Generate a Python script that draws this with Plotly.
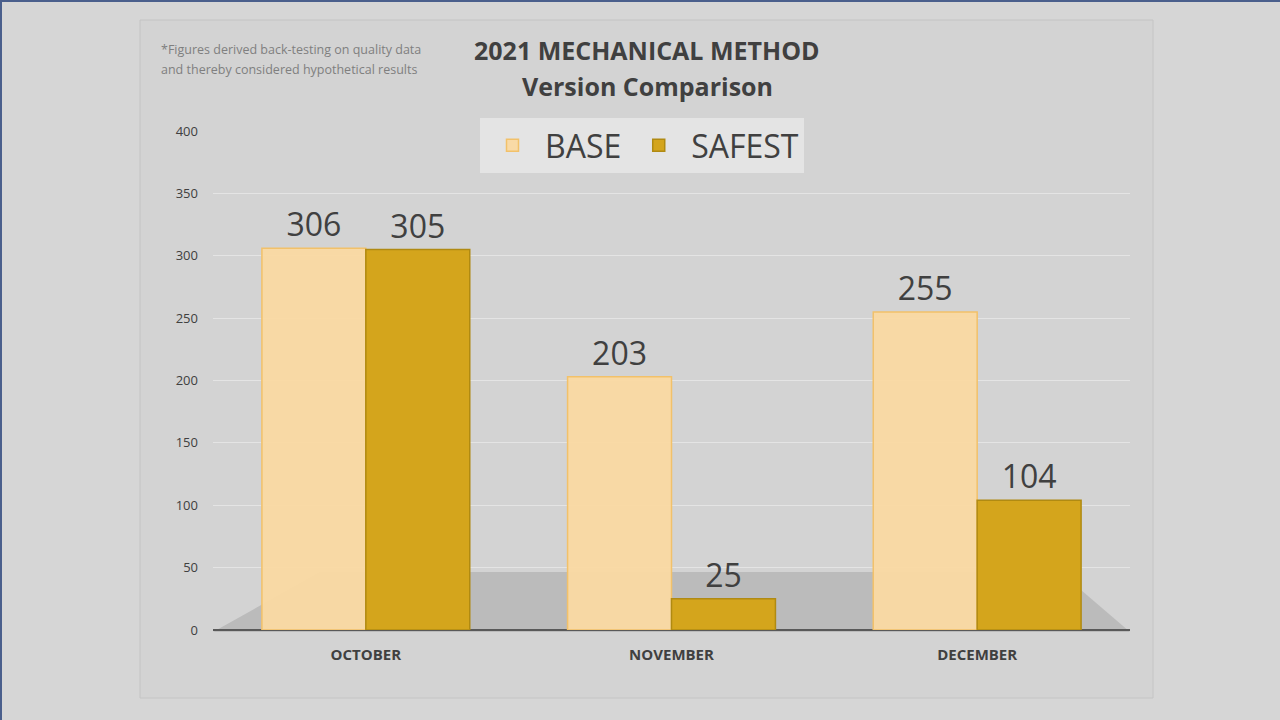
import plotly.graph_objects as go

# datos
months = ["OCTOBER", "NOVEMBER", "DECEMBER"]
base = [306, 203, 255]
safest = [305, 25, 104]
y_ticks = [0, 50, 100, 150, 200, 250, 300, 350, 400]

FONT = "Open Sans"

# area del grafico en pixeles (para pasar a coords paper)
L, R, T, B = 213, 1130, 131, 630
def px(x):
    return (x - L) / (R - L)
def py(y):
    return (B - y) / (B - T)

fig = go.Figure()

fig.add_trace(go.Bar(
    x=months, y=base, name="BASE",
    marker=dict(color="rgba(250,217,162,0.95)", line=dict(color="#F2C16A", width=1.5)),
    text=base, textposition="outside",
    textfont=dict(size=32, color="#404040", family=FONT),
    cliponaxis=False,
))
fig.add_trace(go.Bar(
    x=months, y=safest, name="SAFEST",
    marker=dict(color="#D4A51C", line=dict(color="#B08A12", width=1.5)),
    text=safest, textposition="outside",
    textfont=dict(size=32, color="#404040", family=FONT),
    cliponaxis=False,
))

shapes = [
    # marco interior
    dict(type="rect", xref="paper", yref="paper", layer="below",
         x0=px(140), x1=px(1153), y0=py(698), y1=py(20),
         fillcolor="#D3D3D3", line=dict(color="#C4C4C4", width=1)),
    # suelo gris
    dict(type="path", xref="paper", yref="paper", layer="below",
         path=f"M {px(213)},{py(632)} L {px(1130)},{py(632)} L {px(1060)},{py(572)} L {px(320)},{py(572)} Z",
         fillcolor="#BBBBBB", line=dict(width=0)),
    # borde azul de la diapositiva
    dict(type="line", xref="paper", yref="paper", x0=px(1), x1=px(1), y0=py(720), y1=py(0),
         line=dict(color="#4A5F8C", width=2)),
    dict(type="line", xref="paper", yref="paper", x0=px(0), x1=px(1280), y0=py(1), y1=py(1),
         line=dict(color="#4A5F8C", width=2)),
]

annotations = [
    dict(text="<b>2021 MECHANICAL METHOD</b>",
         xref="paper", yref="paper", x=px(647), y=py(50), xanchor="center", yanchor="middle",
         showarrow=False, font=dict(size=25, color="#404040", family=FONT)),
    dict(text="<b>Version Comparison</b>",
         xref="paper", yref="paper", x=px(647), y=py(86), xanchor="center", yanchor="middle",
         showarrow=False, font=dict(size=25, color="#404040", family=FONT)),
    dict(text="*Figures derived back-testing on quality data",
         xref="paper", yref="paper", x=px(159), y=py(50), xanchor="left", yanchor="middle",
         showarrow=False, font=dict(size=12.5, color="#7F7F7F", family=FONT)),
    dict(text="and thereby considered hypothetical results",
         xref="paper", yref="paper", x=px(159), y=py(69), xanchor="left", yanchor="middle",
         showarrow=False, font=dict(size=12.5, color="#7F7F7F", family=FONT)),
]

fig.update_layout(
    width=1280, height=720,
    margin=dict(l=L, r=1280 - R, t=T, b=720 - B),
    paper_bgcolor="#D6D6D6",
    plot_bgcolor="rgba(0,0,0,0)",
    barmode="group",
    bargap=0.32,
    bargroupgap=0,
    font=dict(family=FONT, color="#404040"),
    showlegend=True,
    legend=dict(
        orientation="h", x=px(480), y=py(118), xanchor="left", yanchor="top",
        bgcolor="rgba(255,255,255,0.4)",
        font=dict(size=32, color="#404040", family=FONT),
        itemwidth=55, traceorder="normal",
    ),
    xaxis=dict(
        showgrid=False, showline=False, ticks="",
        tickfont=dict(size=15, color="#404040", family=FONT),
        ticklabelstandoff=14,
    ),
    yaxis=dict(
        range=[0, 400], tickvals=y_ticks,
        showgrid=True, gridcolor="rgba(255,255,255,0.4)", gridwidth=1,
        zeroline=True, zerolinecolor="#595959", zerolinewidth=2,
        showline=False, ticks="",
        tickfont=dict(size=13, color="#404040", family=FONT),
        ticklabelstandoff=14,
    ),
    shapes=shapes,
    annotations=annotations,
)
fig.update_xaxes(tickprefix="<b>", ticksuffix="</b>")

fig.write_html(
    "out.html",
    config={"displayModeBar": False},
    post_script="document.body.style.margin='0';document.body.style.background='#D6D6D6';",
)
